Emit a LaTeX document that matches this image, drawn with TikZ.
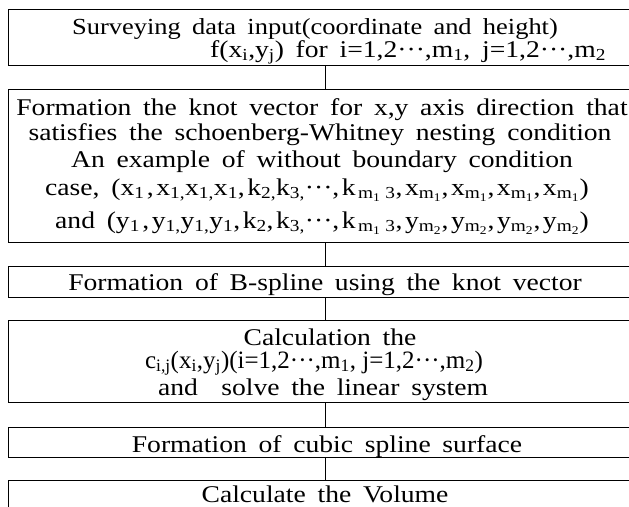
\documentclass[tikz,border=0pt]{standalone}
\usepackage{fontspec}
\setmainfont[FakeStretch=1.15,WordSpace=1.7]{Liberation Serif}
\newfontfamily\plainfont{Liberation Serif}
\newcommand{\sbs}[1]{\textsubscript{#1}}
\newcommand{\ts}{\hspace{2.5pt}}
\begin{document}
\begin{tikzpicture}[x=1pt,y=-1pt,
  box/.style={draw,line width=0.8pt,rectangle,anchor=north west,minimum width=634pt,inner sep=0pt},
  txt/.style={font=\fontsize{24}{28}\selectfont,inner sep=0pt,anchor=base},
  link/.style={draw,line width=0.8pt}]
\useasboundingbox (0,0) rectangle (629,506);
\clip (0,0) rectangle (629,506);
\node[box,minimum height=56pt] (b1) at (8,9) {};
\node[box,minimum height=153pt] (b2) at (8,89) {};
\node[box,minimum height=31pt] (b3) at (8,266) {};
\node[box,minimum height=82pt] (b4) at (8,320) {};
\node[box,minimum height=30pt] (b5) at (8,427) {};
\node[box,minimum height=60pt] (b6) at (8,480) {};
\draw[link] (b1.south) -- (b2.north);
\draw[link] (b2.south) -- (b3.north);
\draw[link] (b3.south) -- (b4.north);
\draw[link] (b4.south) -- (b5.north);
\draw[link] (b5.south) -- (b6.north);
\node[txt,font=\fontsize{23}{28}\selectfont] (t1a) at (315,34) {Surveying data input(coordinate and height)};
\node[txt,anchor=base west] (t1b) at (210,57) {f(x\sbs{i},y\sbs{j}) for i=1,2···,m\sbs{1}, j=1,2···,m\sbs{2}};
\node[txt] (t2a) at (322,115) {Formation the knot vector for x,y axis direction that};
\node[txt] (t2b) at (320,140) {satisfies the schoenberg-Whitney nesting condition};
\node[txt] (t2c) at (322,167) {An example of without boundary condition};
\node[txt] (t2d) at (317,195) {case, (x\sbs{1}\ts,\ts x\sbs{1,}x\sbs{1,}x\sbs{1},\ts k\sbs{2,}k\sbs{3,}···,\ts k\ts\sbs{m\sbs{1}\ts\ts 3},\ts x\sbs{m\sbs{1}},\ts x\sbs{m\sbs{1}},\ts x\sbs{m\sbs{1}},\ts x\sbs{m\sbs{1}})};
\node[txt] (t2e) at (322,228) {and (y\sbs{1}\ts,\ts y\sbs{1,}y\sbs{1,}y\sbs{1},\ts k\sbs{2},\ts k\sbs{3,}···,\ts k\ts\sbs{m\sbs{1}\ts\ts 3},\ts y\sbs{m\sbs{2}},\ts y\sbs{m\sbs{2}},\ts y\sbs{m\sbs{2}},\ts y\sbs{m\sbs{2}})};
\node[txt] (t3) at (325,290) {Formation of B-spline using the knot vector};
\node[txt] (t4a) at (330,345) {Calculation the};
\node[txt,font=\plainfont\fontsize{25}{28}\selectfont] (t4b) at (314,368) {c\sbs{i,j}(x\sbs{i},y\sbs{j})(i=1,2···,m\sbs{1}, j=1,2···,m\sbs{2})};
\node[txt] (t4c) at (323,395) {and \ solve the linear system};
\node[txt] (t5) at (327,452) {Formation of cubic spline surface};
\node[txt] (t6) at (325,502) {Calculate the Volume};
\end{tikzpicture}
\end{document}
